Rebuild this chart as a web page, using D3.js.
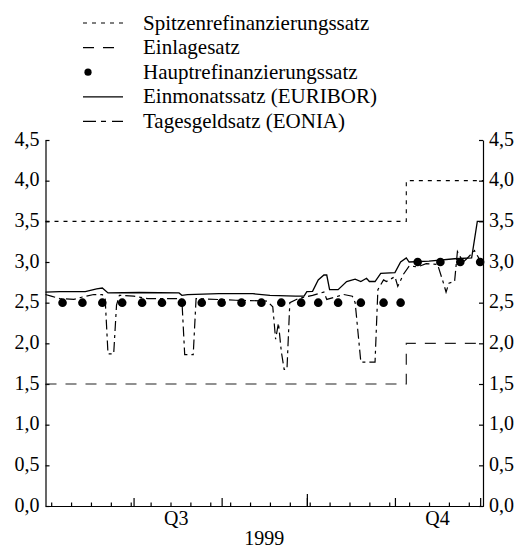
<!DOCTYPE html>
<html>
<head>
<meta charset="utf-8">
<script src="https://cdn.jsdelivr.net/npm/d3@7"></script>
<style>
  body { margin: 0; background: #fff; }
  text { font-family: "Liberation Serif", "Times New Roman", serif; fill: #000; }
</style>
</head>
<body>
<div id="chart"></div>
<script>
// Zinssaetze 1999 (Juli - Anfang Dezember), Werte in %
var legendLabels = ["Spitzenrefinanzierungssatz", "Einlagesatz", "Hauptrefinanzierungssatz",
    "Einmonatssatz (EURIBOR)", "Tagesgeldsatz (EONIA)"];

var policyDates = ["1999-07-01", "1999-11-05", "1999-12-02"];
var spitzenValues = [3.5, 4.0, 4.0];
var einlageValues = [1.5, 2.0, 2.0];

var tenderDates = ["1999-07-07", "1999-07-14", "1999-07-21", "1999-07-28", "1999-08-04", "1999-08-11",
    "1999-08-18", "1999-08-25", "1999-09-01", "1999-09-08", "1999-09-15", "1999-09-22", "1999-09-29",
    "1999-10-05", "1999-10-12", "1999-10-20", "1999-10-28", "1999-11-03", "1999-11-09", "1999-11-17",
    "1999-11-24", "1999-12-01"];
var hauptValues = [2.5, 2.5, 2.5, 2.5, 2.5, 2.5, 2.5, 2.5, 2.5, 2.5, 2.5, 2.5, 2.5,
    2.5, 2.5, 2.5, 2.5, 2.5, 3.0, 3.0, 3.0, 3.0];

var euriborDates = ["1999-07-01", "1999-07-06", "1999-07-15", "1999-07-19", "1999-07-21", "1999-07-23",
    "1999-08-03", "1999-08-17", "1999-08-18", "1999-08-20", "1999-08-31", "1999-09-12", "1999-09-18",
    "1999-09-27", "1999-09-30", "1999-10-01", "1999-10-03", "1999-10-05", "1999-10-07", "1999-10-08",
    "1999-10-09", "1999-10-12", "1999-10-15", "1999-10-18", "1999-10-20", "1999-10-22", "1999-10-23",
    "1999-10-25", "1999-10-27", "1999-11-01", "1999-11-03", "1999-11-05", "1999-11-06", "1999-11-13",
    "1999-11-22", "1999-11-28", "1999-11-30", "1999-12-02"];
var euriborValues = [2.63, 2.635, 2.635, 2.67, 2.68, 2.62,
    2.625, 2.62, 2.59, 2.60, 2.61, 2.61, 2.59,
    2.58, 2.58, 2.635, 2.64, 2.78, 2.84, 2.84,
    2.66, 2.66, 2.76, 2.79, 2.76, 2.80, 2.76,
    2.76, 2.86, 2.87, 3.00, 3.05, 3.00, 3.01,
    3.04, 3.05, 3.50, 3.50];

var eoniaDates = ["1999-07-01", "1999-07-03", "1999-07-06", "1999-07-11", "1999-07-14", "1999-07-18",
    "1999-07-21", "1999-07-22", "1999-07-23", "1999-07-25", "1999-07-26", "1999-07-27", "1999-08-01",
    "1999-08-06", "1999-08-17", "1999-08-18", "1999-08-19", "1999-08-22", "1999-08-23", "1999-09-06",
    "1999-09-17", "1999-09-19", "1999-09-20", "1999-09-21", "1999-09-22", "1999-09-23", "1999-09-24",
    "1999-09-25", "1999-09-28", "1999-10-03", "1999-10-07", "1999-10-08", "1999-10-14", "1999-10-17",
    "1999-10-18", "1999-10-20", "1999-10-25", "1999-10-26", "1999-10-28", "1999-10-29", "1999-11-01",
    "1999-11-02", "1999-11-04", "1999-11-06", "1999-11-09", "1999-11-12", "1999-11-16", "1999-11-18",
    "1999-11-19", "1999-11-20", "1999-11-22", "1999-11-23", "1999-11-25", "1999-11-26", "1999-11-29",
    "1999-12-01"];
var eoniaValues = [2.60, 2.58, 2.55, 2.54, 2.57, 2.60,
    2.60, 2.55, 1.87, 1.87, 2.47, 2.59, 2.58,
    2.55, 2.55, 2.54, 1.86, 1.86, 2.55, 2.53,
    2.52, 2.45, 2.05, 2.25, 1.90, 1.68, 1.68,
    2.50, 2.55, 2.59, 2.63, 2.54, 2.60, 2.58,
    2.50, 1.77, 1.77, 2.66, 2.78, 2.76, 2.82,
    2.70, 2.85, 2.95, 2.94, 2.98, 2.97, 2.75,
    2.63, 2.74, 2.76, 3.13, 3.00, 3.03, 3.14,
    3.02];

var yTicks = [0, 0.5, 1, 1.5, 2, 2.5, 3, 3.5, 4, 4.5];
var quarterLabels = ["Q3", "Q4"];
var quarterStarts = ["1999-07-01", "1999-10-01", "2000-01-01"];
var yearLabel = "1999";

var svgWidth = 526;
var svgHeight = 549;
var margin = { top: 140, right: 43, bottom: 43, left: 45.5 };
var width = svgWidth - margin.left - margin.right;
var height = svgHeight - margin.top - margin.bottom;

var parseDate = d3.timeParse("%Y-%m-%d");
var de = d3.formatLocale({ decimal: ",", thousands: ".", grouping: [3], currency: ["", " €"] });
var fmt = de.format(".1f");

var svg = d3.select("#chart")
    .append("svg")
    .attr("width", svgWidth)
    .attr("height", svgHeight);

var chartGroup = svg.append("g")
    .attr("transform", `translate(${margin.left}, ${margin.top})`);

var xScale = d3.scaleTime()
    .domain([parseDate("1999-07-01"), parseDate("1999-12-02")])
    .range([0, width]);

var yScale = d3.scaleLinear()
    .domain([0, 4.5])
    .range([height, 0]);

function pairs(dates, values) {
    return dates.map(function (d, i) { return { date: parseDate(d), value: values[i] }; });
}

// x-Achse: Wochen, Monate, Quartal
var weeks = d3.timeSaturday.range(xScale.domain()[0], xScale.domain()[1]);
var months = d3.timeMonth.range(parseDate("1999-08-01"), parseDate("1999-12-02"));

chartGroup.append("g")
    .attr("transform", `translate(0, ${height})`)
    .call(d3.axisBottom(xScale).tickValues(weeks).tickSize(-3.5).tickSizeOuter(0).tickFormat(""));
chartGroup.append("g")
    .attr("transform", `translate(0, ${height})`)
    .call(d3.axisBottom(xScale).tickValues(months).tickSize(-8).tickSizeOuter(0).tickFormat(""));
chartGroup.append("g")
    .attr("transform", `translate(0, ${height})`)
    .call(d3.axisBottom(xScale).tickValues([parseDate("1999-10-01")]).tickSize(-12).tickSizeOuter(0).tickFormat(""));

chartGroup.selectAll(".qlabel")
    .data(quarterLabels)
    .enter()
    .append("text")
    .attr("class", "qlabel")
    .attr("x", function (d, i) {
        var a = xScale(parseDate(quarterStarts[i])), b = xScale(parseDate(quarterStarts[i + 1]));
        return (a + b) / 2;
    })
    .attr("y", height + 19)
    .attr("text-anchor", "middle")
    .style("font-size", "20px")
    .text(function (d) { return d; });

chartGroup.append("text")
    .attr("x", width / 2)
    .attr("y", height + 39)
    .attr("text-anchor", "middle")
    .style("font-size", "20px")
    .text(yearLabel);

// y-Achsen links und rechts
var leftAxis = d3.axisLeft(yScale).tickValues(yTicks).tickSize(-4).tickSizeOuter(0).tickPadding(6).tickFormat(fmt);
var rightAxis = d3.axisRight(yScale).tickValues(yTicks).tickSize(-4).tickSizeOuter(0).tickPadding(6).tickFormat(fmt);

chartGroup.append("g").attr("class", "y-axis").call(leftAxis);
chartGroup.append("g").attr("class", "y-axis")
    .attr("transform", `translate(${width}, 0)`)
    .call(rightAxis);

chartGroup.selectAll(".y-axis text")
    .style("font-size", "20px")
    .attr("dy", "0.25em");
chartGroup.selectAll(".domain, .tick line")
    .attr("stroke", "#000")
    .attr("stroke-width", 1.2);

// Linien
var stepLine = d3.line()
    .x(function (d) { return xScale(d.date); })
    .y(function (d) { return yScale(d.value); })
    .curve(d3.curveStepAfter);

var rateLine = d3.line()
    .x(function (d) { return xScale(d.date); })
    .y(function (d) { return yScale(d.value); });

chartGroup.append("path")
    .datum(pairs(policyDates, spitzenValues))
    .attr("d", stepLine)
    .attr("fill", "none")
    .attr("stroke", "#000")
    .attr("stroke-width", 1.1)
    .attr("stroke-dasharray", "4,5");

chartGroup.append("path")
    .datum(pairs(policyDates, einlageValues))
    .attr("d", stepLine)
    .attr("fill", "none")
    .attr("stroke", "#222")
    .attr("stroke-width", 1.2)
    .attr("stroke-dasharray", "11,9");

chartGroup.append("path")
    .datum(pairs(eoniaDates, eoniaValues))
    .attr("d", rateLine)
    .attr("fill", "none")
    .attr("stroke", "#000")
    .attr("stroke-width", 1.2)
    .attr("stroke-dasharray", "10,4,3,4");

chartGroup.append("path")
    .datum(pairs(euriborDates, euriborValues))
    .attr("d", rateLine)
    .attr("fill", "none")
    .attr("stroke", "#000")
    .attr("stroke-width", 1.3);

chartGroup.selectAll(".dot")
    .data(pairs(tenderDates, hauptValues))
    .enter()
    .append("circle")
    .attr("class", "dot")
    .attr("cx", function (d) { return xScale(d.date); })
    .attr("cy", function (d) { return yScale(d.value); })
    .attr("r", 4.3)
    .attr("fill", "#000");

// Legende
var legendStyles = [
    { dash: "4,5" },
    { dash: "11,9" },
    { dot: true },
    { dash: null },
    { dash: "13,5,5,6" }
];
var legend = svg.append("g").attr("transform", "translate(83, 23)");
legendLabels.forEach(function (label, i) {
    var row = legend.append("g").attr("transform", `translate(0, ${i * 24.6})`);
    if (legendStyles[i].dot) {
        row.append("circle").attr("cx", 5).attr("cy", 0).attr("r", 3.6).attr("fill", "#000");
    } else {
        row.append("line")
            .attr("x1", 0).attr("x2", 40).attr("y1", 0).attr("y2", 0)
            .attr("stroke", "#000")
            .attr("stroke-width", 1.2)
            .attr("stroke-dasharray", legendStyles[i].dash);
    }
    row.append("text")
        .attr("x", 60)
        .attr("y", 6.5)
        .style("font-size", "21px")
        .text(label);
});
</script>
</body>
</html>
